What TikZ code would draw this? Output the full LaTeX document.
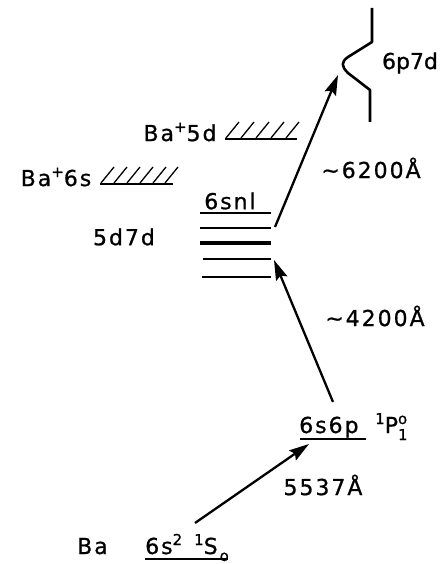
\documentclass[tikz,border=0pt]{standalone}
\usepackage{fontspec}
\setmainfont{DejaVu Sans}[LetterSpace=9,FakeBold=0.8]
\newfontfamily\tightfont{DejaVu Sans}[LetterSpace=0,FakeBold=0.8]
\usetikzlibrary{arrows.meta}
\newcommand{\myup}[1]{\raisebox{9pt}{\fontsize{15}{15}\selectfont #1}}
\newcommand{\mydown}[1]{\raisebox{-7pt}{\fontsize{15}{15}\selectfont #1}}
\tikzset{
  lbl/.style={inner sep=0pt, font=\fontsize{22}{24}\selectfont},
  lvl/.style={line width=2.7pt},
  thicklvl/.style={line width=4.4pt},
  trans/.style={line width=2.3pt, -{Stealth[length=20pt,width=12pt,inset=3pt]}},
  hatch/.style={line width=1.3pt},
  base/.style={line width=2.4pt},
  curvelvl/.style={line width=2.6pt, line join=round}
}
\begin{document}
\begin{tikzpicture}[x=1pt,y=-1pt]
\useasboundingbox (0,0) rectangle (446,564);
% 6p7d broadened level
\draw[curvelvl] (372,8) -- (372,42) -- (348,57) .. controls (341,62) and (341,66) .. (348,73) -- (370,90) -- (370,122);
\node[lbl, font=\fontsize{22}{24}\tightfont] (p7d) at (410,63) {6p7d};
% ionisation limits
\node[lbl] (ba5d) at (180,132) {Ba\myup{+}5d};
\draw[base] (225,139) coordinate (h5a) -- (297,139) coordinate (h5b);
\foreach \x in {226,241,256,271,286} \draw[hatch] (\x,138) -- (\x+13,122);
\node[lbl] (ba6s) at (56,177) {Ba\myup{+}6s};
\draw[base] (100,184) coordinate (h6a) -- (173,184) coordinate (h6b);
\foreach \x in {101,114,127,140,153,165} \draw[hatch] (\x,183) -- (\x+13,167);
% Rydberg levels
\node[lbl] (snl) at (230,201) {6snl};
\node[lbl] (d7d) at (124,237) {5d7d};
\draw[lvl] (200,213) coordinate (l1a) -- (271,213) coordinate (l1b);
\draw[lvl] (200,228) coordinate (l2a) -- (271,228) coordinate (l2b);
\draw[thicklvl] (200,243) coordinate (l3a) -- (271,243) coordinate (l3b);
\draw[lvl] (203,259) coordinate (l4a) -- (271,259) coordinate (l4b);
\draw[lvl] (202,277) coordinate (l5a) -- (271,277) coordinate (l5b);
% labels of wavelengths
\node[lbl] (w62) at (371,168) {\textasciitilde{}6200Å};
\node[lbl] (w42) at (375,316) {\textasciitilde{}4200Å};
\node[lbl] (w55) at (323,485) {5537Å};
% 6s6p
\node[lbl, anchor=base west] (s6p) at (299,433) {6s6p};
\draw[base] (300,439) coordinate (u1a) -- (366,439) coordinate (u1b);
\node[lbl, anchor=base west] (P1) at (375,433) {\myup{1}P\rlap{\mydown{1}}\myup{o}};
% ground state
\node[lbl, anchor=base west] (ba) at (77,554) {Ba};
\node[lbl, anchor=base west] (gs) at (145,554) {6s\myup{2}\hspace{12pt}\myup{1}S\hspace{2pt}\mydown{o}};
\draw[base] (145,559) coordinate (u2a) -- (228,559) coordinate (u2b);
% transitions
\coordinate (a1s) at (195,523); \coordinate (a1e) at (309,444);
\coordinate (a2s) at (333,402); \coordinate (a2e) at (274,260);
\coordinate (a3s) at (275,227); \coordinate (a3e) at (338,75);
\draw[trans] (a1s) -- (a1e);
\draw[trans] (a2s) -- (a2e);
\draw[trans] (a3s) -- (a3e);
\end{tikzpicture}
\end{document}
